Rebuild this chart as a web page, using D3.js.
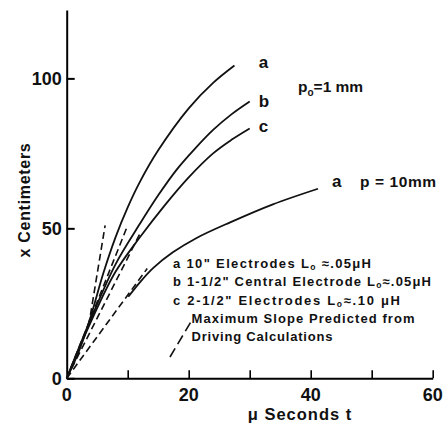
<!DOCTYPE html>
<html>
<head>
<meta charset="utf-8">
<script src="https://cdn.jsdelivr.net/npm/d3@7"></script>
<style>
  body { margin: 0; padding: 0; background: #fff; }
  svg text { font-family: "Liberation Sans", Arial, sans-serif; font-weight: bold; fill: #111; }
</style>
</head>
<body>
<div id="chart"></div>
<script>
// readings: t in microseconds, x in centimeters
var curveA   = [[0,0],[2,9],[4,21],[6,35],[8,47],[10,57],[12,65.5],[15,76],[20,90],[24,98.5],[27.5,104.3]];
var curveB   = [[0,0],[4,20],[8,38],[12,51.5],[15,61],[18,69.5],[21,76.5],[24,82.8],[27,88],[30,92.3]];
var curveC   = [[0,0],[4,19],[8,35.5],[12,47],[16,57.5],[20,67],[24,75],[27,79.5],[30,83.3]];
var curveA10 = [[10.1,27.2],[12,32],[14.2,36.8],[17.4,42],[21.3,46.8],[26.8,52],[33.8,58],[41.2,63.2]];

// dashed "maximum slope" lines, [start, end]
var slopeLines = [
  [[3.6,17.5],[6.3,51]],
  [[0,0],[9.8,50]],
  [[0,0],[12,48.2]],
  [[0,0],[13.2,36.6]]
];

var xTicks = [10,20,30,40,50,60];
var xTickLabels = [0,20,40,60];
var yTicks = [0,50,100];

// curve end labels, in data units
var curveLabels = [
  {text: "a", t: 31.5, x: 103.4},
  {text: "b", t: 31.5, x: 90.4},
  {text: "c", t: 31.5, x: 82.1},
  {text: "a", t: 43.5, x: 63.8}
];

var legendLines = [
  [["a 10\" Electrodes L"], ["o", "sub"], [" ≈.05μH"]],
  [["b 1-1/2\" Central Electrode L"], ["o", "sub"], ["≈.05μH"]],
  [["c 2-1/2\" Electrodes L"], ["o", "sub"], ["≈.10 μH"]],
  [["Maximum Slope Predicted from"]],
  [["Driving Calculations"]]
];

var W = 447, H = 426;
var svg = d3.select("#chart").append("svg").attr("width", W).attr("height", H);

var x = d3.scaleLinear().domain([0, 60]).range([66.7, 432.7]);
var y = d3.scaleLinear().domain([0, 122.8]).range([378.3, 10]);

// axes
var xAxis = d3.axisBottom(x).tickValues(xTicks).tickSizeInner(-8).tickSizeOuter(0)
  .tickFormat(function(d) { return ""; });
var gx = svg.append("g").attr("transform", "translate(0," + y(0) + ")").call(xAxis);
gx.select(".domain").attr("stroke-width", 2);
gx.selectAll(".tick line").attr("stroke-width", 1.6);

var yAxis = d3.axisLeft(y).tickValues(yTicks).tickSizeInner(-8).tickSizeOuter(0).tickPadding(5);
var gy = svg.append("g").attr("transform", "translate(" + x(0) + ",0)").call(yAxis);
gy.select(".domain").attr("stroke-width", 2);
gy.selectAll(".tick line").attr("stroke-width", 2);
gy.selectAll(".tick text").attr("font-size", 18).attr("font-family", null).attr("fill", "#111");

svg.selectAll(".xlab").data(xTickLabels).enter().append("text")
  .attr("class", "xlab")
  .attr("x", function(d) { return x(d); })
  .attr("y", 401)
  .attr("text-anchor", "middle")
  .attr("font-size", 18)
  .text(function(d) { return d; });

// axis titles
svg.append("text")
  .attr("x", 300).attr("y", 420)
  .attr("text-anchor", "middle")
  .attr("font-size", 16.5)
  .attr("letter-spacing", 1)
  .text("μ Seconds t");

svg.append("text")
  .attr("transform", "translate(30,200) rotate(-90)")
  .attr("text-anchor", "middle")
  .attr("font-size", 16)
  .attr("letter-spacing", 0.7)
  .text("x Centimeters");

// curves
var line = d3.line()
  .x(function(d) { return x(d[0]); })
  .y(function(d) { return y(d[1]); })
  .curve(d3.curveCatmullRom.alpha(0.5));

svg.selectAll(".curve").data([curveA, curveB, curveC, curveA10]).enter().append("path")
  .attr("class", "curve")
  .attr("d", line)
  .attr("fill", "none")
  .attr("stroke", "#111")
  .attr("stroke-width", 1.8);

var straight = d3.line()
  .x(function(d) { return x(d[0]); })
  .y(function(d) { return y(d[1]); });

svg.selectAll(".slope").data(slopeLines).enter().append("path")
  .attr("class", "slope")
  .attr("d", straight)
  .attr("fill", "none")
  .attr("stroke", "#111")
  .attr("stroke-width", 1.6)
  .attr("stroke-dasharray", "7,4");

// curve labels
svg.selectAll(".clab").data(curveLabels).enter().append("text")
  .attr("class", "clab")
  .attr("x", function(d) { return x(d.t); })
  .attr("y", function(d) { return y(d.x); })
  .attr("font-size", 17)
  .text(function(d) { return d.text; });

var p0 = svg.append("text").attr("x", 298).attr("y", 92).attr("font-size", 15.5);
p0.append("tspan").text("p");
p0.append("tspan").attr("font-size", 10).attr("dy", 4).text("o");
p0.append("tspan").attr("dy", -4).text("=1 mm");

svg.append("text").attr("x", 360).attr("y", 187).attr("font-size", 15.5)
  .attr("letter-spacing", 0.6)
  .text("p = 10mm");

// legend
var legend = svg.append("g");
var legendX = [173, 173, 173, 191.5, 191.5];
var legendW = [198, 258, 227, 223, 141];
legendLines.forEach(function(parts, i) {
  var t = legend.append("text")
    .attr("x", legendX[i])
    .attr("y", 268 + i * 18.3)
    .attr("font-size", 13)
    .attr("textLength", legendW[i])
    .attr("lengthAdjust", "spacing");
  parts.forEach(function(p) {
    var s = t.append("tspan").text(p[0]);
    if (p[1] === "sub") s.attr("font-size", 8.5).attr("dy", 2);
    else if (t.selectAll("tspan").size() > 1) s.attr("dy", -2);
  });
});

legend.append("line")
  .attr("x1", 170).attr("y1", 357)
  .attr("x2", 192).attr("y2", 320)
  .attr("stroke", "#111")
  .attr("stroke-width", 1.6)
  .attr("stroke-dasharray", "10,5");
</script>
</body>
</html>
